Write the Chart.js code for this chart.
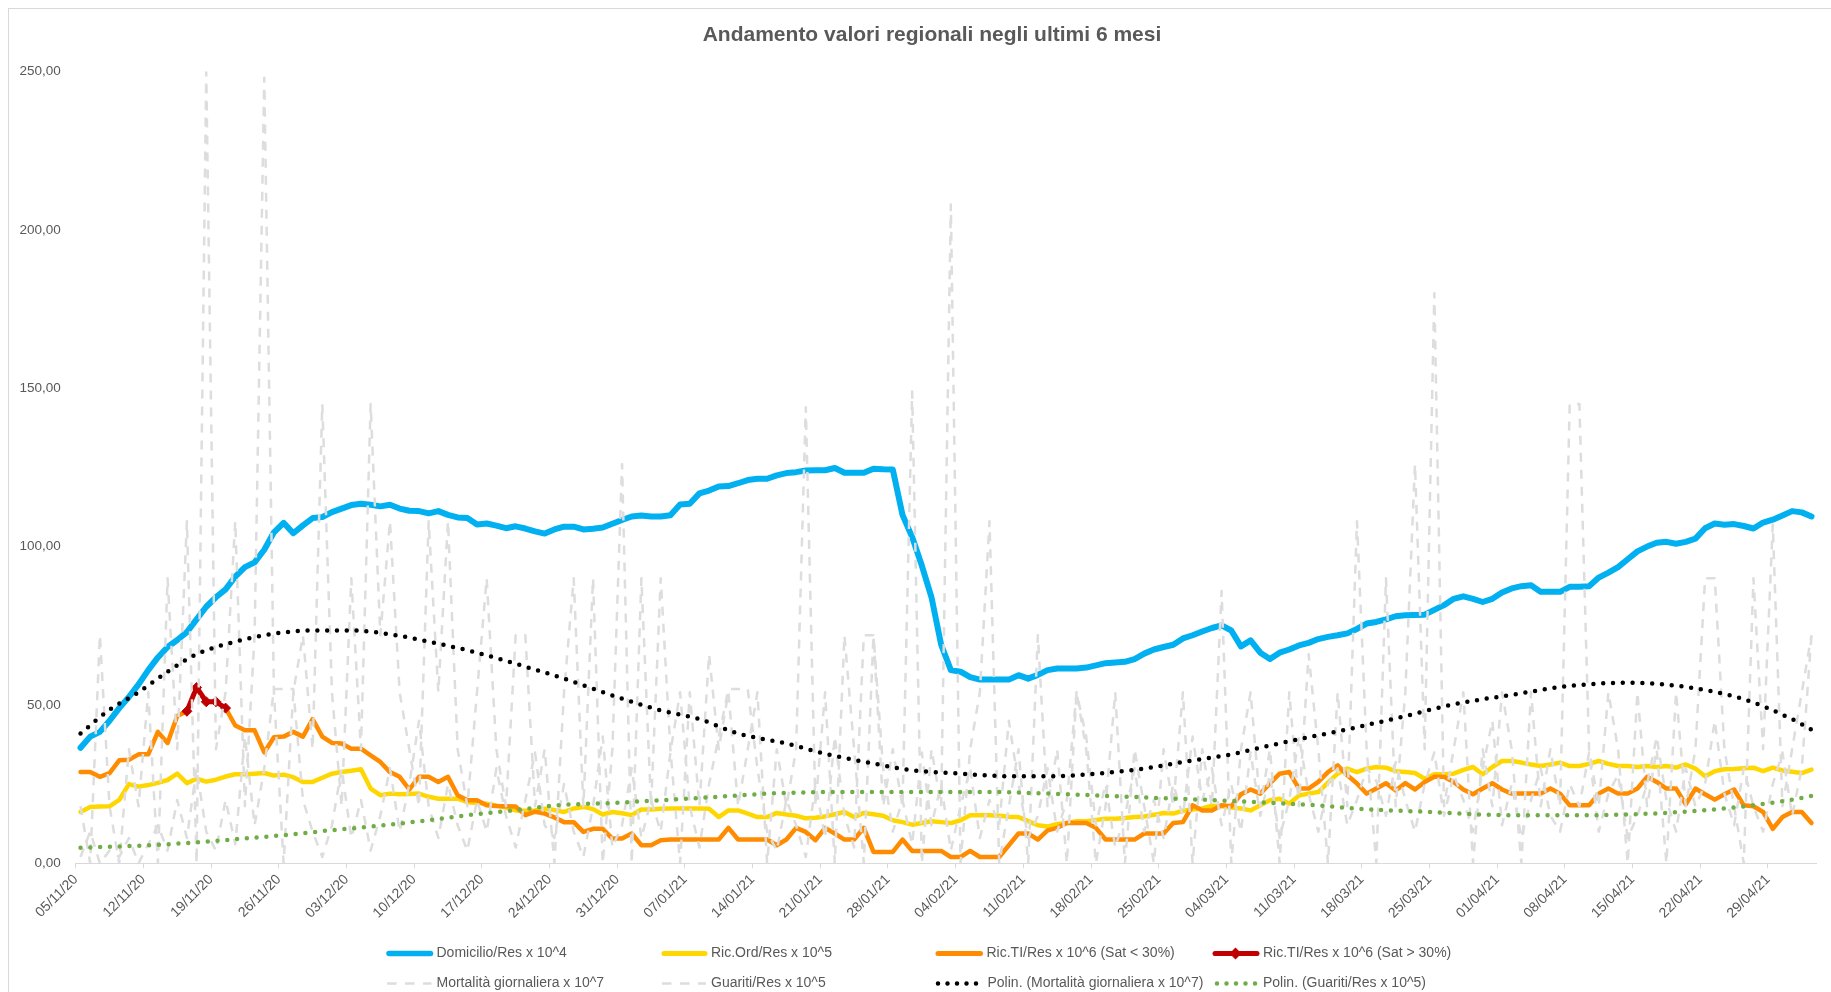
<!DOCTYPE html>
<html><head><meta charset="utf-8">
<script src="https://cdn.jsdelivr.net/npm/chart.js@4.4.1/dist/chart.umd.min.js"></script>
<style>html,body{margin:0;padding:0;background:#fff;}canvas{display:block;}</style>
</head><body>
<canvas id="c" width="1831" height="992"></canvas>
<script>
const titleText = 'Andamento valori regionali negli ultimi 6 mesi';
const tickLabels = ['05/11/20','12/11/20','19/11/20','26/11/20','03/12/20','10/12/20','17/12/20','24/12/20','31/12/20','07/01/21','14/01/21','21/01/21','28/01/21','04/02/21','11/02/21','18/02/21','25/02/21','04/03/21','11/03/21','18/03/21','25/03/21','01/04/21','08/04/21','15/04/21','22/04/21','29/04/21'];
const seriesNames = ['Domicilio/Res x 10^4','Ric.Ord/Res x 10^5','Ric.TI/Res x 10^6 (Sat < 30%)','Ric.TI/Res x 10^6 (Sat > 30%)','Mortalità giornaliera x 10^7','Guariti/Res x 10^5','Polin. (Mortalità giornaliera x 10^7)','Polin. (Guariti/Res x 10^5)'];

const domicilio = [36.5,40,41.5,45,49,52.5,56.5,61,65,68.3,
70.5,73,77,81,84,86.5,90.5,93.5,95,99,
104.5,107.5,104.2,106.7,109,109.3,110.9,112,113.1,113.5,
113.2,112.7,113.2,112,111.3,111.2,110.5,111.2,110,109.2,
109,107,107.3,106.6,105.8,106.4,105.7,104.8,104.1,105.4,
106.3,106.3,105.4,105.6,106,107.2,108.4,109.5,109.8,109.5,
109.5,109.9,113.3,113.5,116.8,117.7,119,119.1,120,121,
121.4,121.4,122.5,123.2,123.5,124,124.1,124.1,124.8,123.3,
123.3,123.3,124.6,124.4,124.3,110,103,94,84,69,
61,60.5,58.8,58,58,58,58,59.4,58.3,59.5,
61,61.5,61.5,61.5,61.8,62.5,63.2,63.4,63.6,64.5,
66.2,67.5,68.3,69,71,72,73.2,74.3,75.1,73.5,
68.5,70.4,66.5,64.5,66.5,67.5,68.8,69.6,70.8,71.5,
72,72.6,74,75.7,76.2,77,78,78.3,78.4,78.5,
80,81.5,83.5,84.3,83.5,82.5,83.5,85.5,86.8,87.5,
87.8,85.7,85.7,85.7,87.3,87.3,87.5,90.2,91.8,93.5,
96,98.5,100,101.2,101.5,100.9,101.5,102.5,105.8,107.3,
106.9,107.1,106.5,105.7,107.6,108.5,109.8,111.2,110.8,109.5];

const ricOrd = [16.2,17.8,17.9,18,20,25,24.2,24.7,25.4,26.3,
28.3,25.3,26.7,25.8,26.4,27.4,28.1,28.1,28.3,28.5,
27.7,28,27.2,25.7,25.7,27,28.3,28.8,29.2,29.7,
23.6,21.5,22,21.8,21.9,22,21,20.4,20.4,20.4,
19.3,19,18.8,18.2,17.6,16.7,16.6,16.7,17.2,16.8,
16.2,17.3,17.8,17.1,15.4,16.2,15.8,15.2,17,17,
17.2,17.3,17.3,17.3,17.3,17.2,14.6,16.7,16.7,15.7,
14.6,14.6,15.9,15.4,15,14.2,14.4,14.8,15.5,16.2,
14.6,15.9,15.5,15,13.6,13,12.2,12.7,13.3,13,
12.7,13.6,15.2,15.2,15.2,15,14.7,14.6,13.3,12,
11.6,12.4,12.7,13.3,13.3,13.7,14.1,14.1,14.3,14.6,
14.8,15.3,15.9,15.7,16.6,17,17.3,18.2,18,17.6,
17.3,16.7,18.3,19.9,20.4,18.8,21.4,22,22.5,25.5,
28.3,29.9,28.8,29.9,30.4,30.2,29.1,28.8,28.5,26.7,
28.1,28.1,28.3,29.5,30.4,28.1,30.4,32.3,32.3,31.8,
31.2,30.7,31.2,31.8,30.7,30.7,31.4,32.3,31.4,30.7,
30.7,30.4,30.7,30.4,30.7,30.2,31.2,29.9,27.5,29.1,
29.7,29.8,30,30.2,29.1,30.2,29.3,28.9,28.5,29.6];

const ricTiLow = [28.8,28.8,27.3,28.5,32.5,32.7,34.4,34.4,41.5,38,
46.5,48,null,null,null,49,43.5,42,42,35,
39.8,40,41.5,40,45.5,40,38,37.8,36.2,36.2,
34.1,32,28.8,27.3,23.3,27.3,27.3,25.7,27.3,21.5,
19.9,19.9,18.3,18.1,18,17.9,15.2,16.3,15.7,14.5,
13,13,9.9,10.9,10.9,7.8,7.8,9.4,5.7,5.7,
7.3,7.5,7.5,7.5,7.5,7.5,7.5,11.2,7.5,7.5,
7.5,7.5,5.7,7.5,11.2,9.9,7.3,11.2,9.4,7.5,
7.5,11.2,3.6,3.6,3.6,7.5,3.9,3.9,3.9,3.9,
2,2,3.9,2,2,2,5.7,9.4,9.4,7.5,
10.4,11.2,12.7,12.7,12.7,11.2,7.5,7.5,7.5,7.5,
9.4,9.4,9.4,12.7,13,18.3,16.7,16.7,18.3,18,
21.8,23.3,22,25.2,28.3,28.8,23.6,23.6,25.7,28.8,
30.9,27.8,25.2,22,23.6,25.3,23,25.3,23.3,25.7,
27.3,27.3,25.7,23.3,21.8,23.6,25.3,23.3,22,22,
22,22,23.6,22,18.3,18.3,18.3,22,23.6,22,
22,23.6,27.3,25.7,23.6,23.6,18.6,23.6,21.8,20.1,
21.8,23.3,18.3,18,16.2,10.9,14.6,16.2,16.2,12.7];

const ricTiHigh = [null,null,null,null,null,null,null,null,null,null,
null,48,55.5,51,51,49,null,null,null,null];

const mortalita = [18,0,72,18,0,36,18,54,0,90,
36,108,0,250,36,54,108,18,72,248,
54,0,54,72,36,145,54,18,90,36,
145,72,108,54,36,18,108,54,108,36,
18,54,90,36,18,72,72,18,36,0,
54,90,18,90,0,36,126,0,90,18,
90,36,0,54,18,66,36,54,18,36,
54,0,36,18,36,144,18,54,0,72,
36,0,72,18,36,18,149,0,36,18,
208,0,36,54,108,0,18,36,0,72,
18,36,0,54,36,0,18,54,0,36,
18,0,36,18,54,0,36,18,86,0,
36,54,18,36,0,54,18,66,36,0,
54,18,108,36,0,90,18,54,126,36,
180,18,36,54,0,36,18,54,36,0,
54,18,36,18,145,145,36,18,54,36,
0,54,18,36,0,54,18,36,90,90,
36,18,0,90,36,107,18,36,54,72];

const guariti = [2,10,0,4,2,8,0,6,12,4,
20,8,30,10,4,20,6,40,12,30,
55,55,55,20,10,2,12,30,8,20,
4,15,30,10,25,45,18,8,25,12,
4,20,10,30,15,5,20,35,12,8,
25,10,2,18,40,5,12,30,8,20,
10,35,54,18,5,25,40,55,55,55,
30,10,4,20,12,2,25,8,40,15,
5,72,72,30,10,20,6,35,12,25,
4,18,30,8,20,12,45,25,8,15,
30,10,20,54,40,12,25,5,15,30,
10,20,8,25,15,40,20,30,12,25,
10,35,15,28,8,20,40,22,10,25,
30,12,20,30,26,15,32,20,10,25,
35,15,28,20,10,30,45,12,25,8,
20,30,15,10,25,18,35,10,22,28,
8,15,25,40,20,10,30,18,25,45,
22,12,30,18,10,25,35,15,30,72];

const polyMortalita = [[0,41],[3,48.5],[6,54],[9,60.5],[12,66],[16,70],[20,72.5],[24,73.5],[28,73.5],[32,72.3],[36,70],[41,66.5],[45,63],[50,58.3],[55,53],[60,48.3],[64,45.5],[68,41],[73,37.8],[77,34.6],[82,31.5],[86,29.4],[91,28.3],[96,27.5],[101,27.5],[105,28.3],[110,29.9],[114,32],[119,34.4],[123,37.2],[127,39.8],[131,42.3],[137,46.5],[142,50.2],[148,53.2],[154,56],[160,57],[166,55.7],[172,51.8],[177,45.5],[180,40.5]];
const polyGuariti = [[0,4.9],[7,5.7],[11.5,6.5],[15.6,7.5],[20.7,8.8],[25.8,10.4],[30.4,11.7],[35.4,13.4],[40,15.2],[44.7,16.7],[49.3,18.3],[55.3,19.1],[59.9,19.9],[64.3,20.7],[72.6,22.2],[79,22.5],[86.4,22.5],[93.8,22.5],[100.3,22],[106.7,21.2],[114.1,20.3],[121,19.4],[127.9,18.3],[132.3,17.2],[139.5,16.2],[147.8,15.2],[156.2,15.2],[162.5,15.7],[169.6,17.2],[175.6,19.4],[180,21.8]];

const days = domicilio.map((_, i) => i);
const FONT = '"Liberation Sans", Arial, sans-serif';
const GREY_TXT = '#595959';

const decorPlugin = {
  id: 'decor',
  beforeDraw(chart) {
    const ctx = chart.ctx;
    ctx.save();
    ctx.fillStyle = '#ffffff';
    ctx.fillRect(0, 0, chart.width, chart.height);
    ctx.strokeStyle = '#D9D9D9';
    ctx.lineWidth = 1;
    ctx.strokeRect(8.5, 8.5, chart.width + 20, chart.height + 20);
    ctx.restore();
  },
  afterDraw(chart) {
    const ctx = chart.ctx;
    ctx.save();
    ctx.fillStyle = GREY_TXT;
    ctx.font = 'bold 21px ' + FONT;
    ctx.textAlign = 'center';
    ctx.textBaseline = 'middle';
    ctx.fillText(titleText, 932, 35);

    const items = [
      {x: 387, y: 953.5, tx: 436.5, kind: 'line', color: '#00B0F0', w: 5.5},
      {x: 662, y: 953.5, tx: 711, kind: 'line', color: '#FFD700', w: 5},
      {x: 936, y: 953.5, tx: 986.5, kind: 'line', color: '#FF8C00', w: 5},
      {x: 1213, y: 953.5, tx: 1263, kind: 'diamond', color: '#C00000', w: 5},
      {x: 387, y: 983.5, tx: 436.5, kind: 'dash', color: '#DDDDDD', w: 2.5},
      {x: 662, y: 983.5, tx: 711, kind: 'dash', color: '#DDDDDD', w: 2.5},
      {x: 936, y: 983.5, tx: 987.5, kind: 'dot', color: '#000000', w: 4.5},
      {x: 1215, y: 983.5, tx: 1263, kind: 'dot', color: '#70AD47', w: 4.5}
    ];
    items.forEach((it, i) => {
      ctx.save();
      ctx.strokeStyle = it.color;
      ctx.lineWidth = it.w;
      ctx.lineCap = 'round';
      const x1 = it.tx - 5;
      ctx.beginPath();
      if (it.kind === 'dash') {
        ctx.lineCap = 'butt';
        ctx.setLineDash([9.5, 8.5]);
        ctx.moveTo(it.x, it.y); ctx.lineTo(x1, it.y);
        ctx.stroke();
      } else if (it.kind === 'dot') {
        ctx.setLineDash([0, 9.5]);
        ctx.moveTo(it.x + 2, it.y); ctx.lineTo(x1, it.y);
        ctx.stroke();
      } else {
        ctx.moveTo(it.x + 2, it.y); ctx.lineTo(x1 - 1, it.y);
        ctx.stroke();
        if (it.kind === 'diamond') {
          const cx = (it.x + x1) / 2;
          ctx.fillStyle = it.color;
          ctx.beginPath();
          ctx.moveTo(cx, it.y - 6); ctx.lineTo(cx + 6, it.y); ctx.lineTo(cx, it.y + 6); ctx.lineTo(cx - 6, it.y);
          ctx.closePath(); ctx.fill();
        }
      }
      ctx.restore();
      ctx.fillStyle = GREY_TXT;
      ctx.font = '14px ' + FONT;
      ctx.textAlign = 'left';
      ctx.textBaseline = 'middle';
      ctx.fillText(seriesNames[i], it.tx, it.y);
    });
    ctx.restore();
  }
};

const lineBase = {pointRadius: 0, borderJoinStyle: 'round', borderCapStyle: 'round', fill: false, tension: 0};

new Chart(document.getElementById('c'), {
  type: 'line',
  data: {
    labels: days,
    datasets: [
      Object.assign({}, lineBase, {label: seriesNames[0], data: domicilio, borderColor: '#00B0F0', borderWidth: 6, order: 7}),
      Object.assign({}, lineBase, {label: seriesNames[1], data: ricOrd, borderColor: '#FFD700', borderWidth: 4.5, order: 6}),
      Object.assign({}, lineBase, {label: seriesNames[2], data: ricTiLow, borderColor: '#FF8C00', borderWidth: 4.5, order: 5}),
      Object.assign({}, lineBase, {label: seriesNames[3], data: ricTiHigh, borderColor: '#C00000', borderWidth: 5, order: 4,
        pointRadius: 5, pointStyle: 'rectRot', pointBackgroundColor: '#C00000', pointBorderColor: '#C00000', pointBorderWidth: 1}),
      Object.assign({}, lineBase, {label: seriesNames[4], data: mortalita, borderColor: '#DDDDDD', borderWidth: 2.5, borderDash: [9, 8], borderCapStyle: 'butt', order: 3}),
      Object.assign({}, lineBase, {label: seriesNames[5], data: guariti, borderColor: '#DDDDDD', borderWidth: 2.5, borderDash: [9, 8], borderCapStyle: 'butt', order: 2}),
      Object.assign({}, lineBase, {label: seriesNames[6], data: polyMortalita.map(p => ({x: p[0], y: p[1]})), borderColor: '#000000', borderWidth: 4.5, borderDash: [0, 9.8], cubicInterpolationMode: 'monotone', order: 1}),
      Object.assign({}, lineBase, {label: seriesNames[7], data: polyGuariti.map(p => ({x: p[0], y: p[1]})), borderColor: '#70AD47', borderWidth: 4.5, borderDash: [0, 9.8], cubicInterpolationMode: 'monotone', order: 0})
    ]
  },
  options: {
    responsive: false,
    animation: false,
    devicePixelRatio: 1,
    layout: {padding: {top: 71.5, right: 14.7, bottom: 0, left: 0}},
    plugins: {legend: {display: false}, title: {display: false}, tooltip: {enabled: false}},
    scales: {
      x: {
        type: 'linear', min: -0.5, max: 179.5,
        afterBuildTicks: s => { s.ticks = tickLabels.map((_, i) => ({value: i * 7 - 0.5})); },
        afterFit: s => { s.height = 128.7; },
        grid: {display: true, drawOnChartArea: false, drawTicks: true, tickLength: 5, color: '#D9D9D9'},
        border: {display: true, color: '#D9D9D9', width: 1},
        ticks: {autoSkip: false, maxRotation: 45, minRotation: 45, padding: 3, color: GREY_TXT,
          font: {family: FONT, size: 14}, callback: (v, i) => tickLabels[i]}
      },
      y: {
        min: 0, max: 250,
        afterFit: s => { s.width = 75.7; },
        grid: {display: false, drawTicks: false},
        border: {display: false},
        ticks: {stepSize: 50, padding: 15, color: GREY_TXT, font: {family: FONT, size: 13.5},
          callback: v => Number(v).toFixed(2).replace('.', ',')}
      }
    }
  },
  plugins: [decorPlugin]
});
</script>
</body></html>
